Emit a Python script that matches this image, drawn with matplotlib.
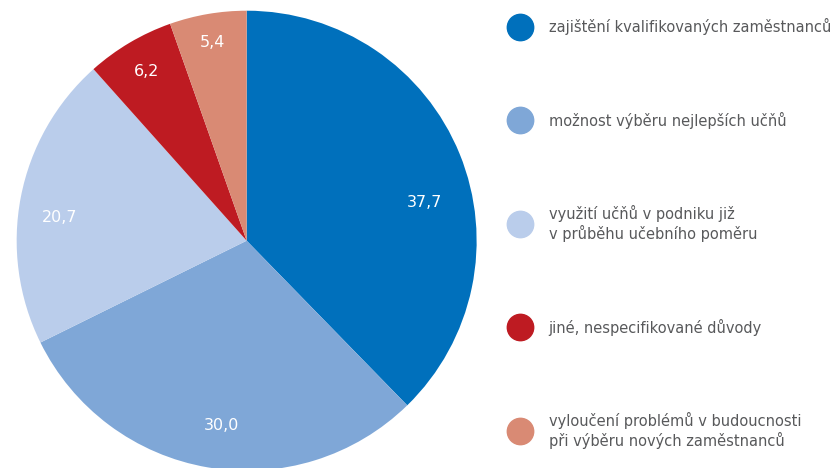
import numpy as np
import matplotlib
matplotlib.use("Agg")
from matplotlib import pyplot as plt
from matplotlib.lines import Line2D

# podíly v %
labels = ["zajištění kvalifikovaných zaměstnanců",
          "možnost výběru nejlepších učňů",
          "využití učňů v podniku již\nv průběhu učebního poměru",
          "jiné, nespecifikované důvody",
          "vyloučení problémů v budoucnosti\npři výběru nových zaměstnanců"]
values = [37.7, 30.0, 20.7, 6.2, 5.4]
value_text = ["37,7", "30,0", "20,7", "6,2", "5,4"]
colors = ["#0070bc", "#7fa7d7", "#bacdeb", "#be1b22", "#d98a74"]

plt.rcParams['font.family'] = ['DejaVu Sans']

fig = plt.figure(figsize=(8.33, 4.68), dpi=100)
ax = fig.add_axes([0.02, -0.0058, 0.5522, 0.983])

wedges, _ = ax.pie(values, colors=colors, startangle=90, counterclock=False,
                   radius=1, wedgeprops=dict(linewidth=0))
ax.set_xlim(-1, 1)
ax.set_ylim(-1, 1)
ax.set_aspect('equal')
ax.axis('off')

# popisky hodnot uvnitř výsečí
label_r = [0.79, 0.81, 0.82, 0.855, 0.875]
angle_shift = [-10, 2, 4, 0, 0]
for w, txt, r, sh in zip(wedges, value_text, label_r, angle_shift):
    ang = np.deg2rad((w.theta1 + w.theta2) / 2 + sh)
    ax.text(r * np.cos(ang), r * np.sin(ang), txt, color='white',
            fontsize=11.5, ha='center', va='center')

handles = [Line2D([], [], marker='o', linestyle='none', markersize=19,
                  markerfacecolor=c, markeredgecolor=c) for c in colors]
leg = fig.legend(handles, labels, loc='upper left',
                 bbox_to_anchor=(505 / 833, 1 - 18 / 468),
                 frameon=False, labelspacing=5.25, handletextpad=1.0,
                 fontsize=10.5, labelcolor='#58595b', borderaxespad=0,
                 borderpad=0)

fig.savefig("out.png", dpi=100)
